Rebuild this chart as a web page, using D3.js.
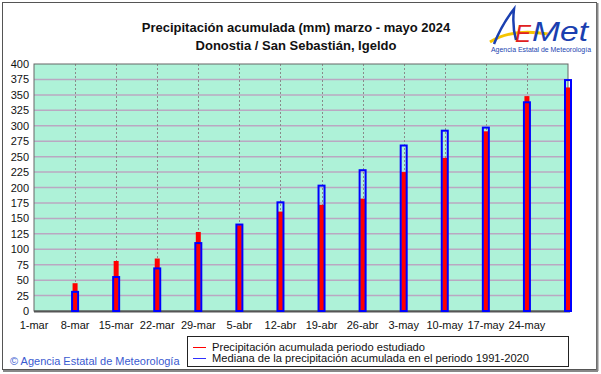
<!DOCTYPE html>
<html>
<head>
<meta charset="utf-8">
<script src="https://cdn.jsdelivr.net/npm/d3@7"></script>
<style>
  body { margin: 0; background: #fff; }
  text { font-family: Arial, "Liberation Sans", sans-serif; }
</style>
</head>
<body>
<div id="chart"></div>
<script>
// Data
const weekDates = ["2024-03-08", "2024-03-15", "2024-03-22", "2024-03-29", "2024-04-05", "2024-04-12",
    "2024-04-19", "2024-04-26", "2024-05-03", "2024-05-10", "2024-05-17", "2024-05-24", "2024-05-31"];
const observed = [45, 81, 85, 128, 139, 161, 172, 182, 225, 248, 291, 348, 362];
const median = [31, 55, 69, 110, 140, 176, 203, 228, 268, 292, 297, 338, 374];
const tickLabels = ["1-mar", "8-mar", "15-mar", "22-mar", "29-mar", "5-abr", "12-abr", "19-abr", "26-abr",
    "3-may", "10-may", "17-may", "24-may"];
const yTicks = d3.range(0, 401, 25);

const parseDate = d3.timeParse("%Y-%m-%d");
const rows = weekDates.map((d, i) => ({ date: parseDate(d), obs: observed[i], med: median[i] }));

// Chart Dimensions
const width = 601, height = 374;
const plot = { left: 34, right: 568, top: 64, bottom: 311 };

const svg = d3.select("#chart").append("svg")
    .attr("width", width)
    .attr("height", height);

// Outer frame
svg.append("rect").attr("x", 2.5).attr("y", 2.5).attr("width", 594).attr("height", 367)
    .attr("fill", "#fff").attr("stroke", "#555").attr("stroke-width", 1);
svg.append("line").attr("x1", 597.5).attr("x2", 597.5).attr("y1", 3).attr("y2", 371)
    .attr("stroke", "#888").attr("stroke-width", 2);
svg.append("line").attr("x1", 3).attr("x2", 598).attr("y1", 371).attr("y2", 371)
    .attr("stroke", "#888").attr("stroke-width", 2);

// Scales
const x = d3.scaleTime()
    .domain([parseDate("2024-03-01"), parseDate("2024-05-31")])
    .range([plot.left, plot.right]);
const y = d3.scaleLinear().domain([0, 400]).range([plot.bottom, plot.top]);

// Plot background
svg.append("rect")
    .attr("x", plot.left).attr("y", plot.top)
    .attr("width", plot.right - plot.left).attr("height", plot.bottom - plot.top)
    .attr("fill", "#aef2d8");

// Horizontal grid
svg.append("g").selectAll("line")
    .data(yTicks.filter(d => d > 0 && d < 400))
    .join("line")
    .attr("x1", plot.left).attr("x2", plot.right)
    .attr("y1", d => y(d)).attr("y2", d => y(d))
    .attr("stroke", "#baa8c2").attr("stroke-width", 1.5);

// Vertical dashed grid
const tickDates = tickLabels.map((t, i) => d3.timeDay.offset(parseDate("2024-03-01"), i * 7));
svg.append("g").selectAll("line")
    .data(tickDates.slice(1))
    .join("line")
    .attr("x1", d => Math.round(x(d)) + 0.5).attr("x2", d => Math.round(x(d)) + 0.5)
    .attr("y1", plot.top).attr("y2", plot.bottom)
    .attr("stroke", "#8a8a8a").attr("stroke-width", 1).attr("stroke-dasharray", "2,2");

// Plot border
svg.append("rect")
    .attr("x", plot.left).attr("y", plot.top)
    .attr("width", plot.right - plot.left).attr("height", plot.bottom - plot.top)
    .attr("fill", "none").attr("stroke", "#666").attr("stroke-width", 1);
svg.append("line").attr("x1", plot.left).attr("x2", plot.right + 2)
    .attr("y1", plot.bottom + 0.5).attr("y2", plot.bottom + 0.5)
    .attr("stroke", "#555").attr("stroke-width", 2);

// Observed bars (red)
svg.append("g").selectAll("rect")
    .data(rows)
    .join("rect")
    .attr("x", d => x(d.date) - 2.5)
    .attr("width", 5)
    .attr("y", d => y(d.obs))
    .attr("height", d => y(0) - y(d.obs))
    .attr("fill", "#ff0000");

// Median bars (blue outline)
svg.append("g").selectAll("rect")
    .data(rows)
    .join("rect")
    .attr("x", d => x(d.date) - 3)
    .attr("width", 6)
    .attr("y", d => y(d.med))
    .attr("height", d => y(0) - y(d.med))
    .attr("fill", "none")
    .attr("stroke", "#0000ff")
    .attr("stroke-width", 2);

// Y axis labels
svg.append("g").selectAll("text")
    .data(yTicks)
    .join("text")
    .attr("x", 29)
    .attr("y", d => y(d) + 4)
    .attr("text-anchor", "end")
    .attr("font-size", 11)
    .attr("fill", "#111")
    .text(d => d);

// X axis labels
svg.append("g").selectAll("text")
    .data(tickLabels)
    .join("text")
    .attr("x", (d, i) => x(tickDates[i]))
    .attr("y", 329)
    .attr("text-anchor", "middle")
    .attr("font-size", 11)
    .attr("fill", "#111")
    .text(d => d);

// Title
svg.append("text").attr("x", 296).attr("y", 32).attr("text-anchor", "middle")
    .attr("font-size", 13).attr("font-weight", "bold").attr("fill", "#111")
    .text("Precipitación acumulada (mm) marzo - mayo 2024");
svg.append("text").attr("x", 296).attr("y", 50).attr("text-anchor", "middle")
    .attr("font-size", 13).attr("font-weight", "bold").attr("fill", "#111")
    .text("Donostia / San Sebastián, Igeldo");

// Legend
const legend = svg.append("g");
legend.append("rect").attr("x", 187.5).attr("y", 336.5).attr("width", 381).attr("height", 30)
    .attr("fill", "#fff").attr("stroke", "#222").attr("stroke-width", 1);
const legendItems = [
    { label: "Precipitación acumulada periodo estudiado", color: "#ff0000", len: 213 },
    { label: "Mediana de la precipitación acumulada en el periodo 1991-2020", color: "#3030ff", len: 317 }
];
legendItems.forEach((d, i) => {
    const cy = 347 + i * 11;
    legend.append("line").attr("x1", 193).attr("x2", 206).attr("y1", cy + 0.5).attr("y2", cy + 0.5)
        .attr("stroke", d.color).attr("stroke-width", 1);
    legend.append("text").attr("x", 212).attr("y", cy + 4)
        .attr("font-size", 11.5).attr("fill", "#111")
        .attr("textLength", d.len).attr("lengthAdjust", "spacingAndGlyphs")
        .text(d.label);
});

// Copyright
svg.append("text").attr("x", 10).attr("y", 365)
    .attr("font-size", 11).attr("fill", "#3a5ad0")
    .text("© Agencia Estatal de Meteorología");

// Logo
const logo = svg.append("g");
logo.append("path")
    .attr("d", "M490,42 Q512,28 548,34")
    .attr("fill", "none").attr("stroke", "#f5c400").attr("stroke-width", 3);
logo.append("path")
    .attr("d", "M494,44 Q502,24 514,9 Q512,26 516,40")
    .attr("fill", "none").attr("stroke", "#1a3fb0").attr("stroke-width", 2.5);
logo.append("text").attr("x", 515).attr("y", 42)
    .attr("font-size", 24).attr("font-style", "italic").attr("fill", "#e02020")
    .text("E");
logo.append("text").attr("x", 532).attr("y", 41)
    .attr("font-size", 28).attr("font-style", "italic").attr("fill", "#1a3fb0")
    .attr("textLength", 56).attr("lengthAdjust", "spacingAndGlyphs")
    .text("Met");
logo.append("text").attr("x", 541).attr("y", 52).attr("text-anchor", "middle")
    .attr("font-size", 7).attr("fill", "#1a3fb0")
    .attr("textLength", 100).attr("lengthAdjust", "spacingAndGlyphs")
    .text("Agencia Estatal de Meteorología");
</script>
</body>
</html>
